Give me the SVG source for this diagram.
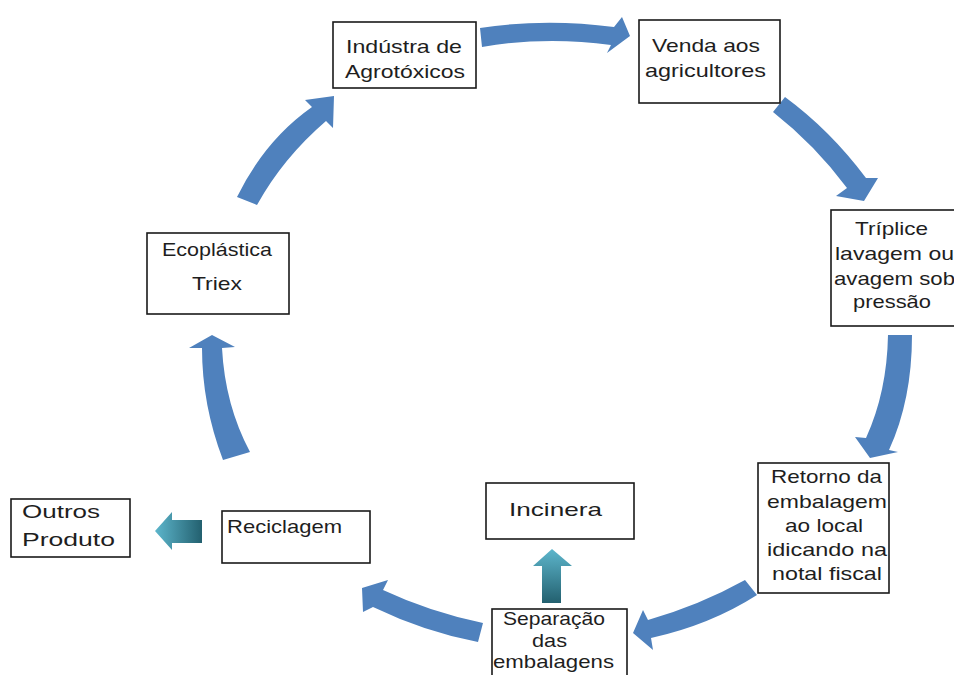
<svg xmlns="http://www.w3.org/2000/svg" width="954" height="675" viewBox="0 0 954 675">
<style>
.box{fill:#fff;stroke:#1a1a1a;stroke-width:1.6}
.t{font-family:"Liberation Sans","Open Sans",sans-serif;font-size:19px;fill:#1e1e1e}
.arr{fill:#4f81bd}
</style>
<defs>
<linearGradient id="gl" x1="0" y1="0" x2="1" y2="0">
<stop offset="0" stop-color="#5db6cc"/><stop offset="1" stop-color="#23606f"/>
</linearGradient>
<linearGradient id="gu" x1="0" y1="0" x2="0" y2="1">
<stop offset="0" stop-color="#5db6cc"/><stop offset="1" stop-color="#23606f"/>
</linearGradient>
</defs>
<rect width="954" height="675" fill="#fff"/>
<g id="connectors">
<path class="arr" d="M480,28 Q545,18 614,27 L622,17 L630,36 L607,53 L611,45 Q545,36 482,47 Z"/>
<path class="arr" d="M785,97 Q830,130 866,178 L878,178 L864,201 L836,196 L847,188 Q815,145 773,112 Z"/>
<path class="arr" d="M888,335 L912,335 Q912,400 889,450 L898,452 L870,458 L855,437 L866,438 Q887,392 888,335 Z"/>
<path class="arr" d="M745,580 Q700,605 648,620 L643,610 L633,633 L653,650 L651,638 Q710,625 757,595 Z"/>
<path class="arr" d="M483,623 Q430,612 383,590 L388,580 L362,588 L363,612 L373,607 Q425,632 478,642 Z"/>
<path class="arr" d="M223,460 Q202,405 202,348 L189,348 L212,335 L235,347 L222,348 Q225,405 250,452 Z"/>
<path class="arr" d="M237,197 Q265,140 312,107 L305,100 L334,96 L333,128 L326,121 Q283,158 257,205 Z"/>
<path fill="url(#gl)" d="M202,520 L172,520 L172,512 L155,531 L172,550 L172,543 L202,543 Z"/>
<path fill="url(#gu)" d="M542,603 L542,566 L533,566 L552,549 L572,566 L561,566 L561,603 Z"/>
</g>
<g id="n-industria">
<rect class="box" x="333" y="22" width="143" height="66"/>
<text class="t" x="346" y="53" textLength="116" lengthAdjust="spacingAndGlyphs">Indústra de</text>
<text class="t" x="345" y="78" textLength="120" lengthAdjust="spacingAndGlyphs">Agrotóxicos</text>
</g>
<g id="n-venda">
<rect class="box" x="639" y="20" width="141" height="83"/>
<text class="t" x="652" y="52" textLength="108" lengthAdjust="spacingAndGlyphs">Venda  aos</text>
<text class="t" x="645" y="77" textLength="121" lengthAdjust="spacingAndGlyphs">agricultores</text>
</g>
<g id="n-triplice">
<rect class="box" x="831" y="210" width="140" height="116"/>
<text class="t" x="855" y="235" textLength="73" lengthAdjust="spacingAndGlyphs">Tríplice</text>
<text class="t" x="835" y="260" textLength="119" lengthAdjust="spacingAndGlyphs">lavagem ou</text>
<text class="t" x="834" y="285" textLength="121" lengthAdjust="spacingAndGlyphs">avagem sob</text>
<text class="t" x="853" y="308" textLength="78" lengthAdjust="spacingAndGlyphs">pressão</text>
</g>
<g id="n-retorno">
<rect class="box" x="758" y="463" width="131" height="130"/>
<text class="t" x="771" y="483" textLength="111" lengthAdjust="spacingAndGlyphs">Retorno da</text>
<text class="t" x="767" y="508" textLength="120" lengthAdjust="spacingAndGlyphs">embalagem</text>
<text class="t" x="785" y="532" textLength="78" lengthAdjust="spacingAndGlyphs">ao local</text>
<text class="t" x="767" y="556" textLength="120" lengthAdjust="spacingAndGlyphs">idicando na</text>
<text class="t" x="772" y="580" textLength="110" lengthAdjust="spacingAndGlyphs">notal fiscal</text>
</g>
<g id="n-separacao">
<rect class="box" x="492" y="609" width="135" height="80"/>
<text class="t" x="503" y="625" font-size="18" textLength="102" lengthAdjust="spacingAndGlyphs">Separação</text>
<text class="t" x="532" y="647" font-size="18" textLength="35" lengthAdjust="spacingAndGlyphs">das</text>
<text class="t" x="493" y="668" font-size="18" textLength="121" lengthAdjust="spacingAndGlyphs">embalagens</text>
</g>
<g id="n-incinera">
<rect class="box" x="486" y="483" width="148" height="56"/>
<text class="t" x="509" y="516" textLength="93" lengthAdjust="spacingAndGlyphs">Incinera</text>
</g>
<g id="n-reciclagem">
<rect class="box" x="222" y="511" width="148" height="52"/>
<text class="t" x="227" y="533" textLength="115" lengthAdjust="spacingAndGlyphs">Reciclagem</text>
</g>
<g id="n-outros">
<rect class="box" x="11" y="499" width="119" height="58"/>
<text class="t" x="22" y="518" font-size="21" textLength="78" lengthAdjust="spacingAndGlyphs">Outros</text>
<text class="t" x="22" y="546" font-size="21" textLength="93" lengthAdjust="spacingAndGlyphs">Produto</text>
</g>
<g id="n-ecoplastica">
<rect class="box" x="147" y="233" width="142" height="81"/>
<text class="t" x="162" y="256" textLength="110" lengthAdjust="spacingAndGlyphs">Ecoplástica</text>
<text class="t" x="192" y="290" textLength="50" lengthAdjust="spacingAndGlyphs">Triex</text>
</g>
</svg>
